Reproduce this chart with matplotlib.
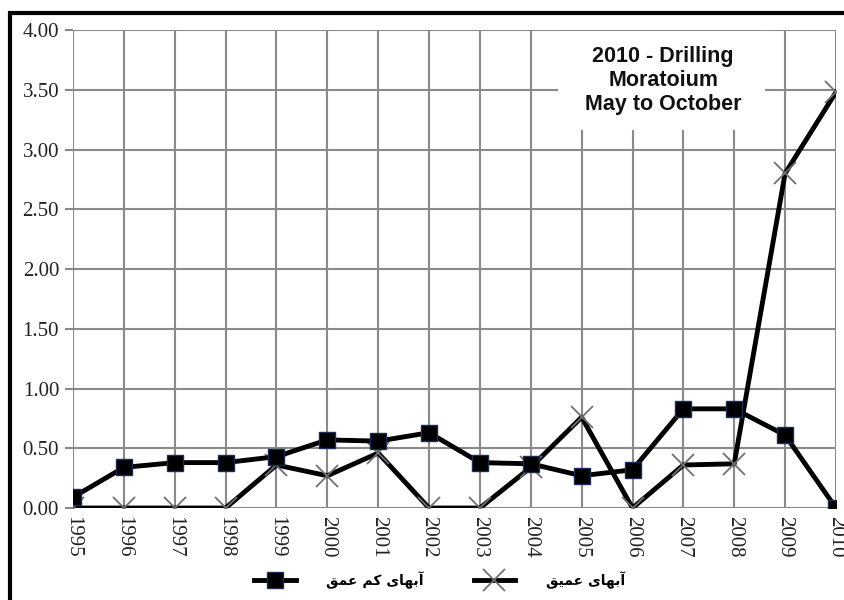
import matplotlib
matplotlib.use("Agg")
import matplotlib.pyplot as plt
from matplotlib.patches import Rectangle

years = list(range(1995, 2011))
shallow = [0.09, 0.34, 0.38, 0.38, 0.43, 0.57, 0.56, 0.63, 0.38, 0.37, 0.27, 0.32, 0.83, 0.83, 0.61, 0.0]
deep = [0.0, 0.0, 0.0, 0.0, 0.36, 0.27, 0.46, 0.0, 0.0, 0.34, 0.76, 0.0, 0.36, 0.37, 2.80, 3.48]
yticks = [0.0, 0.5, 1.0, 1.5, 2.0, 2.5, 3.0, 3.5, 4.0]
label_shallow = "آبهای کم عمق"
label_deep = "آبهای عمیق"
note = "2010 - Drilling\nMoratoium\nMay to October"

# matplotlib has no arabic shaping, so pick presentation forms by hand
FORMS = {
    'آ': ('\uFE81', '\uFE82', None, None),
    'ا': ('\uFE8D', '\uFE8E', None, None),
    'ب': ('\uFE8F', '\uFE90', '\uFE91', '\uFE92'),
    'ه': ('\uFEE9', '\uFEEA', '\uFEEB', '\uFEEC'),
    'ی': ('\uFEEF', '\uFEF0', '\uFEF3', '\uFEF4'),
    'ک': ('\uFB8E', '\uFB8F', '\uFB90', '\uFB91'),
    'م': ('\uFEE1', '\uFEE2', '\uFEE3', '\uFEE4'),
    'ع': ('\uFEC9', '\uFECA', '\uFECB', '\uFECC'),
    'ق': ('\uFED5', '\uFED6', '\uFED7', '\uFED8'),
}

def shape(text):
    out = []
    for i, ch in enumerate(text):
        if ch not in FORMS:
            out.append(ch)
            continue
        prev = text[i - 1] if i > 0 else ''
        nxt = text[i + 1] if i + 1 < len(text) else ''
        jp = prev in FORMS and FORMS[prev][2] is not None
        jn = nxt in FORMS and FORMS[ch][2] is not None
        f = FORMS[ch]
        if jp and jn:
            out.append(f[3])
        elif jp:
            out.append(f[1])
        elif jn:
            out.append(f[2])
        else:
            out.append(f[0])
    return ''.join(out)[::-1]

fig = plt.figure(figsize=(8.45, 6), dpi=100)
ax = fig.add_axes([0.0864, 0.1533, 0.9029, 0.7967])

ax.plot(years, deep, color='black', lw=3.5, marker='x', markersize=16,
        markeredgecolor='#707070', markeredgewidth=1.3, zorder=3, label=shape(label_deep))
ax.plot(years, shallow, color='black', lw=3.5, marker='s', markersize=11,
        markerfacecolor='black', markeredgecolor='#1c2c55', markeredgewidth=1.0,
        zorder=4, label=shape(label_shallow))

ax.set_xlim(1995, 2010)
ax.set_ylim(0, 4)
ax.set_xticks(years)
ax.set_xticklabels([str(y) for y in years], rotation=-90, family='Liberation Serif',
                   fontsize=15, color='#222222')
ax.set_yticks(yticks)
ax.set_yticklabels(['%.2f' % v for v in yticks], family='Liberation Serif',
                   fontsize=15, color='#222222')
ax.tick_params(axis='y', length=6, color='#888888', width=1.5, pad=4)
ax.tick_params(axis='x', length=0, pad=6)
ax.grid(True, color='#8a8a8a', lw=1.5)
ax.set_axisbelow(True)
for s in ax.spines.values():
    s.set_visible(False)

# white box behind the note
ax.add_patch(Rectangle((0.636, 0.79), 0.271, 0.207, transform=ax.transAxes,
                       facecolor='white', edgecolor='none', zorder=1, clip_on=False))
ax.text(0.7735, 0.894, note, transform=ax.transAxes, ha='center', va='center',
        fontsize=15.5, fontweight='bold', family='Liberation Sans', color='#111111',
        linespacing=1.2, zorder=5)

handles, labels = ax.get_legend_handles_labels()
fig.legend(handles[::-1], labels[::-1], loc='center', bbox_to_anchor=(0.52, 0.033), ncol=2,
           frameon=False, handlelength=3.0, handletextpad=2.2, columnspacing=3.6,
           prop={'family': ['DejaVu Sans'], 'size': 10, 'weight': 'bold'})

# outer frame
fig.patches.append(Rectangle((10 / 845, -0.05), 1.1, 1 - 13 / 600 + 0.05,
                             transform=fig.transFigure, fill=False, edgecolor='black',
                             lw=3, clip_on=False))

fig.savefig('out.png', dpi=100)
